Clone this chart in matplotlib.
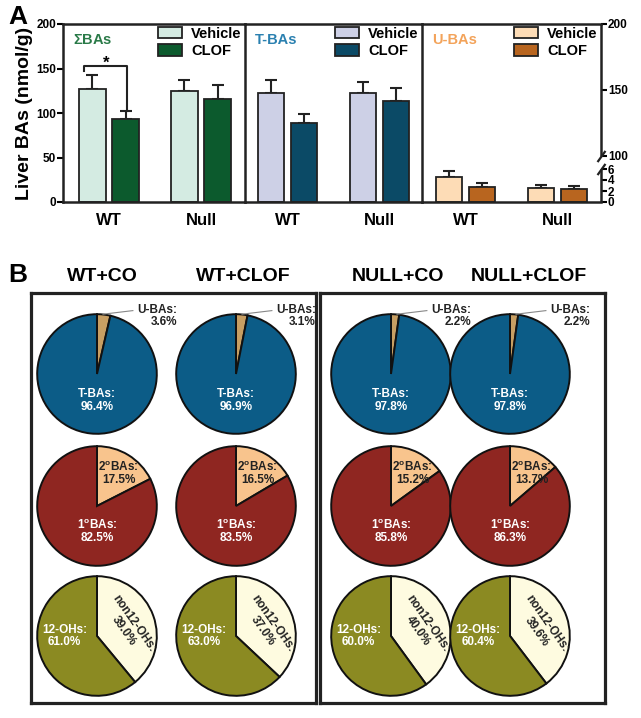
import numpy as np
import matplotlib
matplotlib.use("Agg")
import matplotlib.pyplot as plt
from matplotlib.transforms import blended_transform_factory
from matplotlib.patches import Patch

plt.rcParams['font.family'] = ['Liberation Sans', 'DejaVu Sans']
plt.rcParams['font.weight'] = 'bold'
plt.rcParams['mathtext.fontset'] = 'custom'
plt.rcParams['mathtext.rm'] = 'Liberation Sans:bold'
plt.rcParams['mathtext.bf'] = 'Liberation Sans:bold'
plt.rcParams['mathtext.it'] = 'Liberation Sans:bold'

# ---------------- data: panel A ----------------
genotypes = ['WT', 'Null']
treatments = ['Vehicle', 'CLOF']
sigma_vehicle = [127, 125]
sigma_vehicle_err = [16, 12]
sigma_clof = [93, 116]
sigma_clof_err = [9, 15]
t_vehicle = [122, 123]
t_vehicle_err = [15, 12]
t_clof = [89, 113]
t_clof_err = [10, 15]
u_vehicle = [4.5, 2.5]
u_vehicle_err = [1.1, 0.6]
u_clof = [2.7, 2.4]
u_clof_err = [0.8, 0.5]
left_ticks = [0, 50, 100, 150, 200]
right_ticks = [0, 2, 4, 6, 100, 150, 200]

# ---------------- data: panel B ----------------
groups = ['WT+CO', 'WT+CLOF', 'NULL+CO', 'NULL+CLOF']
u_pct = [3.6, 3.1, 2.2, 2.2]
t_pct = [96.4, 96.9, 97.8, 97.8]
sec_pct = [17.5, 16.5, 15.2, 13.7]
pri_pct = [82.5, 83.5, 85.8, 86.3]
non12_pct = [39.0, 37.0, 40.0, 39.6]
oh12_pct = [61.0, 63.0, 60.0, 60.4]

W, H = 641, 718
fig = plt.figure(figsize=(W / 100, H / 100), dpi=100)


def fr(x0, y0, x1, y1):
    return [x0 / W, 1 - y1 / H, (x1 - x0) / W, (y1 - y0) / H]


# ---------------- panel A ----------------
top, bot = 24, 202
sections = [(63, 245), (245, 422), (422, 601)]
sec_data = [
    (sigma_vehicle, sigma_vehicle_err, sigma_clof, sigma_clof_err, '#d4ebe2', '#0c5a2d', r'$\Sigma$BAs', '#2a7a48'),
    (t_vehicle, t_vehicle_err, t_clof, t_clof_err, '#cdd0e6', '#0b4a66', 'T-BAs', '#2a80b0'),
    (u_vehicle, u_vehicle_err, u_clof, u_clof_err, '#fddcb6', '#b8651f', 'U-BAs', '#f3a35a'),
]


def fwd(v):
    v = np.asarray(v, float)
    return np.where(v <= 6, v * 5.5, np.where(v <= 100, 33 + (v - 6) * 13 / 94, 46 + (v - 100) * 1.32))


def inv(p):
    p = np.asarray(p, float)
    return np.where(p <= 33, p / 5.5, np.where(p <= 46, 6 + (p - 33) * 94 / 13, 100 + (p - 46) / 1.32))


x = np.arange(len(genotypes))
bw = 0.29
off = 0.18
axes_a = []
for i, ((x0, x1), (veh, vehe, clo, cloe, cv, cc, title, tcol)) in enumerate(zip(sections, sec_data)):
    ax = fig.add_axes(fr(x0, top, x1, bot))
    ax.patch.set_visible(False)
    axes_a.append(ax)
    if i == 2:
        ax.set_yscale('function', functions=(fwd, inv))
    ax.set_ylim(0, 200)
    width_px = x1 - x0
    left_off = 46 if i == 0 else (42.5 if i == 1 else 43.5)
    ax.set_xlim(-left_off / 92, (width_px - left_off) / 92)
    ax.bar(x - off, veh, bw, color=cv, edgecolor='#222222', lw=1.3, label='Vehicle', zorder=2)
    ax.bar(x + off, clo, bw, color=cc, edgecolor='#222222', lw=1.3, label='CLOF', zorder=2)
    ax.errorbar(x - off, veh, yerr=[np.zeros(len(veh)), vehe], fmt='none', ecolor='#222222',
                elinewidth=1.5, capsize=4.5, capthick=1.5, zorder=1)
    ax.errorbar(x + off, clo, yerr=[np.zeros(len(clo)), cloe], fmt='none', ecolor='#222222',
                elinewidth=1.5, capsize=4.5, capthick=1.5, zorder=1)
    ax.set_xticks(x)
    ax.set_xticklabels(genotypes, fontsize=12, fontweight='bold')
    ax.tick_params(axis='x', length=0, pad=8)
    for s in ax.spines.values():
        s.set_linewidth(1.8)
        s.set_color('#222222')
        s.set_zorder(5)
    ax.spines['left'].set_visible(i == 0)
    if i == 0:
        ax.set_yticks(left_ticks)
        ax.tick_params(axis='y', direction='out', length=4, width=1.5, labelsize=8.5, pad=1)
        ax.set_ylabel('Liver BAs (nmol/g)', fontsize=14, fontweight='bold', labelpad=2)
    elif i == 1:
        ax.set_yticks([])
    else:
        ax.yaxis.tick_right()
        ax.set_yticks(right_ticks)
        ax.set_yticklabels([str(t) for t in right_ticks])
        ax.tick_params(axis='y', direction='out', length=4, width=1.5, labelsize=8.5, pad=1)
        ax.spines['right'].set_visible(False)
        tr = blended_transform_factory(ax.transAxes, ax.transData)
        for seg in ([0, 6], [100, 200]):
            ax.plot([1, 1], seg, color='#222222', lw=1.8, transform=tr, clip_on=False, zorder=5,
                    solid_capstyle='butt')
        for yv in (6, 100):
            ax.plot([1], [yv], transform=tr, clip_on=False, marker=[(-1, -1.4), (1, 1.4)],
                    markersize=8, markeredgewidth=1.6, color='#222222', zorder=5)
    for lab in ax.get_yticklabels():
        lab.set_fontweight('bold')
    ax.text(0.055, 0.91, title, transform=ax.transAxes, color=tcol, fontsize=10.5,
            fontweight='bold', ha='left', va='center')
    handles = [Patch(facecolor=cv, edgecolor='#222222', lw=1.3), Patch(facecolor=cc, edgecolor='#222222', lw=1.3)]
    ax.legend(handles, treatments, loc='upper right', bbox_to_anchor=(1.03, 1.035), frameon=False,
              prop={'weight': 'bold', 'size': 10.5}, handlelength=1.7, handleheight=0.85,
              handletextpad=0.6, labelspacing=0.25, borderaxespad=0.2)

# significance bracket
ax0 = axes_a[0]
ax0.plot([-0.27, -0.27, 0.2, 0.2], [147, 153, 153, sigma_clof[0] + sigma_clof_err[0]],
         color='#222222', lw=1.5, zorder=3)
ax0.text(-0.03, 148, '*', ha='center', va='bottom', fontsize=12, fontweight='bold')

fig.text(8 / W, 1 - 17 / H, 'A', fontsize=19, fontweight='bold', va='center', ha='left')

# ---------------- panel B ----------------
fig.text(8 / W, 1 - 275 / H, 'B', fontsize=19, fontweight='bold', va='center', ha='left')
title_x = [102, 243, 398, 529]
for g, tx in zip(groups, title_x):
    fig.text(tx / W, 1 - 277 / H, g, fontsize=14, fontweight='bold', ha='center', va='center')

for (bx0, bx1) in [(31, 316), (320, 605)]:
    bax = fig.add_axes(fr(bx0, 293, bx1, 703))
    bax.set_xticks([])
    bax.set_yticks([])
    bax.patch.set_alpha(0)
    for s in bax.spines.values():
        s.set_linewidth(2.3)
        s.set_color('#222222')

pie_x = [97, 236, 391, 510]
row_y = [374, 506, 636]
r = 61
fs = 8.5
wkw = dict(edgecolor='#111111', linewidth=1.4)
for j in range(4):
    cx = pie_x[j]
    # row 1
    ax = fig.add_axes(fr(cx - r, row_y[0] - r, cx + r, row_y[0] + r))
    ax.pie([u_pct[j], t_pct[j]], colors=['#c89f63', '#0c5c87'], startangle=90, counterclock=False,
           wedgeprops=wkw, radius=1)
    ax.set_xlim(-1.02, 1.02)
    ax.set_ylim(-1.02, 1.02)
    ax.set_aspect('equal')
    ax.axis('off')
    ax.text(0, -0.44, f'T-BAs:\n{t_pct[j]:.1f}%', color='white', ha='center', va='center',
            fontsize=fs, fontweight='bold', linespacing=1.1)
    ax.plot([0.1, 0.6], [1.0, 1.06], color='#888888', lw=0.8, clip_on=False)
    ax.text(1.0, 0.97, f'U-BAs:\n{u_pct[j]:.1f}%', color='#222222', ha='center', va='center',
            fontsize=fs, fontweight='bold', multialignment='right', linespacing=1.1, clip_on=False)
    # row 2
    ax = fig.add_axes(fr(cx - r, row_y[1] - r, cx + r, row_y[1] + r))
    ax.pie([sec_pct[j], pri_pct[j]], colors=['#f8c48d', '#8f2621'], startangle=90, counterclock=False,
           wedgeprops=wkw, radius=1)
    ax.set_xlim(-1.02, 1.02)
    ax.set_ylim(-1.02, 1.02)
    ax.set_aspect('equal')
    ax.axis('off')
    ax.text(0.36, 0.55, '2$^{o}$BAs:\n' + f'{sec_pct[j]:.1f}%', color='#222222', ha='center',
            va='center', fontsize=fs, fontweight='bold', linespacing=1.1)
    ax.text(0, -0.42, '1$^{o}$BAs:\n' + f'{pri_pct[j]:.1f}%', color='white', ha='center',
            va='center', fontsize=fs, fontweight='bold', linespacing=1.1)
    # row 3
    ax = fig.add_axes(fr(cx - r, row_y[2] - r, cx + r, row_y[2] + r))
    ax.pie([non12_pct[j], oh12_pct[j]], colors=['#fefbe0', '#8b8a22'], startangle=90, counterclock=False,
           wedgeprops=wkw, radius=1)
    ax.set_xlim(-1.02, 1.02)
    ax.set_ylim(-1.02, 1.02)
    ax.set_aspect('equal')
    ax.axis('off')
    ax.text(-0.54, 0.0, f'12-OHs:\n{oh12_pct[j]:.1f}%', color='white', ha='center', va='center',
            fontsize=fs, fontweight='bold', linespacing=1.1)
    ax.text(0.53, 0.14, f'non12-OHs:\n{non12_pct[j]:.1f}%', color='#222222', ha='center', va='center',
            fontsize=fs, fontweight='bold', rotation=-55, rotation_mode='anchor', linespacing=1.1)

fig.savefig('out.png', dpi=100)
